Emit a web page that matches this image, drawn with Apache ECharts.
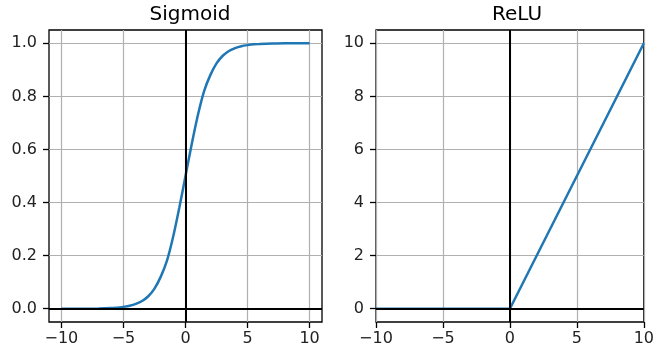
<!DOCTYPE html>
<html>
<head>
<meta charset="utf-8">
<script src="https://cdn.jsdelivr.net/npm/echarts@6/dist/echarts.min.js"></script>
<style>
  html, body { margin: 0; padding: 0; background: #fff; }
  #main { width: 657px; height: 357px; }
</style>
</head>
<body>
<div id="main"></div>
<script>
// values
var sigX = [-10, -9, -8, -7, -6, -5.5, -5, -4.5, -4, -3.5, -3, -2.5, -2, -1.5, -1, -0.5, 0,
            0.5, 1, 1.5, 2, 2.5, 3, 3.5, 4, 4.5, 5, 5.5, 6, 7, 8, 9, 10];
var sigY = [0.0, 0.0, 0.0, 0.001, 0.003, 0.004, 0.007, 0.011, 0.018, 0.029, 0.047, 0.076, 0.12, 0.18, 0.27, 0.38, 0.5,
            0.62, 0.73, 0.82, 0.88, 0.924, 0.953, 0.971, 0.982, 0.989, 0.993, 0.996, 0.997, 0.999, 1.0, 1.0, 1.0];
var reluX = [-10, 0, 10];
var reluY = [0, 0, 10];
var xTicks = [-10, -5, 0, 5, 10];
var sigYTicks = [0, 0.2, 0.4, 0.6, 0.8, 1.0];
var reluYTicks = [0, 2, 4, 6, 8, 10];
var titles = ['Sigmoid', 'ReLU'];

var chart = echarts.init(document.getElementById('main'));

var FONT = 'DejaVu Sans';
function minus(v) { return String(v).replace('-', '\u2212'); }

function pairs(xs, ys) {
    var out = [];
    for (var i = 0; i < xs.length; i++) out.push([xs[i], ys[i]]);
    return out;
}

function xAxisOf(idx, min, max) {
    return {
        type: 'value', gridIndex: idx, min: min, max: max,
        axisLine: { show: false, onZero: false },
        axisTick: { show: true, length: 6, lineStyle: { color: '#000', width: 1.3 }, customValues: xTicks },
        axisLabel: { customValues: xTicks, color: '#222', fontFamily: FONT, fontSize: 16, margin: 9,
            formatter: function (v) { return minus(v); } },
        splitLine: { show: true, lineStyle: { color: '#b0b0b0', width: 1.2 } }
    };
}
function yAxisOf(idx, min, max, ticks, digits) {
    return {
        type: 'value', gridIndex: idx, min: min, max: max,
        axisLine: { show: false, onZero: false },
        axisTick: { show: true, length: 6, lineStyle: { color: '#000', width: 1.3 }, customValues: ticks },
        axisLabel: { customValues: ticks, color: '#222', fontFamily: FONT, fontSize: 16, margin: 12,
            formatter: function (v) { return minus(v.toFixed(digits)); } },
        splitLine: { show: true, lineStyle: { color: '#b0b0b0', width: 1.2 } }
    };
}
function zeroLines(idx) {
    return {
        type: 'line', xAxisIndex: idx, yAxisIndex: idx, data: [], z: 1, silent: true,
        markLine: {
            symbol: 'none', silent: true, label: { show: false },
            lineStyle: { color: '#000', width: 2, type: 'solid' },
            data: [{ xAxis: 0 }, { yAxis: 0 }]
        }
    };
}

var option = {
    animation: false,
    title: [
        { text: titles[0], left: 185, top: 0, textAlign: 'center',
          textStyle: { fontFamily: FONT, fontSize: 20, fontWeight: 'normal', color: '#000' } },
        { text: titles[1], left: 512, top: 0, textAlign: 'center',
          textStyle: { fontFamily: FONT, fontSize: 20, fontWeight: 'normal', color: '#000' } }
    ],
    grid: [
        { left: 49, top: 30, width: 273, height: 292, show: true, borderColor: '#000', borderWidth: 1.3, backgroundColor: 'transparent' },
        { left: 376, top: 30, width: 273, height: 292, show: true, borderColor: '#000', borderWidth: 1.3, backgroundColor: 'transparent' }
    ],
    xAxis: [xAxisOf(0, -11, 11), xAxisOf(1, -10, 10)],
    yAxis: [yAxisOf(0, -0.05, 1.05, sigYTicks, 1), yAxisOf(1, -0.5, 10.5, reluYTicks, 0)],
    series: [
        zeroLines(0),
        zeroLines(1),
        {
            type: 'line', xAxisIndex: 0, yAxisIndex: 0, z: 3,
            data: pairs(sigX, sigY), smooth: 0.2, showSymbol: false,
            lineStyle: { color: '#1f77b4', width: 2.5 }
        },
        {
            type: 'line', xAxisIndex: 1, yAxisIndex: 1, z: 3,
            data: pairs(reluX, reluY), showSymbol: false,
            lineStyle: { color: '#1f77b4', width: 2.5 }
        }
    ]
};
chart.setOption(option);
</script>
</body>
</html>
